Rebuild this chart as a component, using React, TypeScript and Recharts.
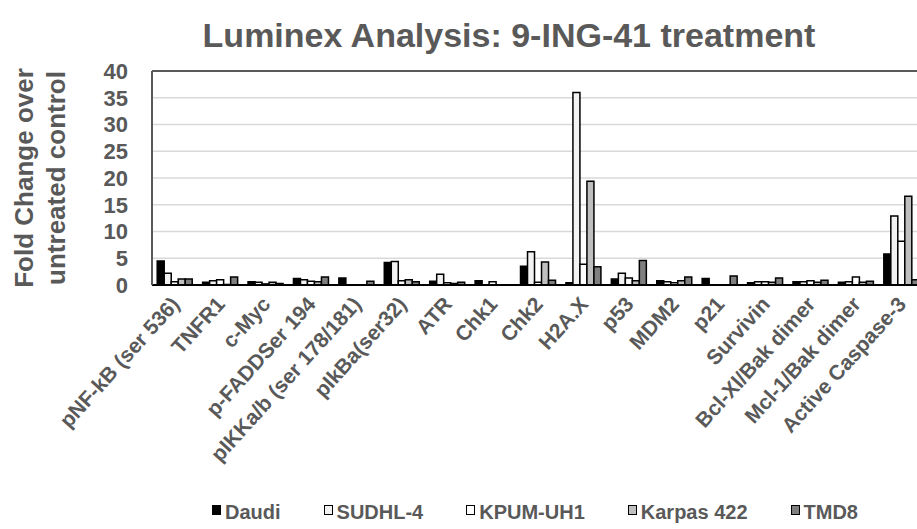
import React from 'react'
import { Bar, BarChart, CartesianGrid, Legend, ReferenceLine, XAxis, YAxis } from 'recharts'

const categories = [
  'pNF-kB (ser 536)',
  'TNFR1',
  'c-Myc',
  'p-FADDSer 194',
  'pIKKa/b (ser 178/181)',
  'pIkBa(ser32)',
  'ATR',
  'Chk1',
  'Chk2',
  'H2A.X',
  'p53',
  'MDM2',
  'p21',
  'Survivin',
  'Bcl-Xl/Bak dimer',
  'Mcl-1/Bak dimer',
  'Active Caspase-3',
]

const daudi = [4.5, 0.5, 0.6, 1.2, 1.3, 4.2, 0.7, 0.8, 3.5, 0.4, 1.1, 0.8, 1.2, 0.4, 0.6, 0.5, 5.8]
const sudhl4 = [2.2, 0.8, 0.5, 1.0, 0, 4.4, 2.0, 0, 6.2, 36.0, 2.2, 0.6, 0, 0.6, 0.6, 0.6, 12.9]
const kpumUh1 = [0.6, 1.0, 0.2, 0.7, 0, 0.8, 0.4, 0.6, 0.5, 3.9, 1.3, 0.4, 0, 0.6, 0.8, 1.5, 8.2]
const karpas422 = [1.1, 0.1, 0.5, 0.6, 0, 1.0, 0.3, 0, 4.3, 19.4, 0.8, 0.8, 0, 0.5, 0.5, 0.5, 16.6]
const tmd8 = [1.1, 1.5, 0.3, 1.5, 0.7, 0.6, 0.5, 0, 0.9, 3.4, 4.6, 1.5, 1.7, 1.3, 0.9, 0.7, 1.0]

const yTicks = [0, 5, 10, 15, 20, 25, 30, 35, 40]

const series = [
  { key: 'daudi', name: 'Daudi', fill: '#000000' },
  { key: 'sudhl4', name: 'SUDHL-4', fill: '#f2f2f2' },
  { key: 'kpum', name: 'KPUM-UH1', fill: '#ffffff' },
  { key: 'karpas', name: 'Karpas 422', fill: '#bfbfbf' },
  { key: 'tmd8', name: 'TMD8', fill: '#7f7f7f' },
]

const data = categories.map((name, i) => ({
  name,
  daudi: daudi[i],
  sudhl4: sudhl4[i],
  kpum: kpumUh1[i],
  karpas: karpas422[i],
  tmd8: tmd8[i],
}))

const FONT = '"Liberation Sans", Arial, sans-serif'
const GREY = '#595959'

function XTick({ x, y, payload }: any) {
  const ax = x + 6
  const ay = y + 18
  return (
    <text
      x={ax}
      y={ay}
      transform={`rotate(-48, ${ax}, ${ay})`}
      textAnchor="end"
      fontFamily={FONT}
      fontWeight="bold"
      fontSize={21}
      fill={GREY}
    >
      {payload.value}
    </text>
  )
}

function YLabel() {
  const common = {
    textAnchor: 'middle' as const,
    dominantBaseline: 'central' as const,
    fontFamily: FONT,
    fontWeight: 'bold',
    fontSize: 26,
    fill: GREY,
  }
  return (
    <g>
      <text transform="translate(24,178) rotate(-90)" {...common}>
        Fold Change over
      </text>
      <text transform="translate(56,178) rotate(-90)" {...common}>
        untreated control
      </text>
    </g>
  )
}

function LegendContent() {
  return (
    <div style={{ display: 'flex', fontFamily: FONT, fontWeight: 'bold', fontSize: 20, color: GREY }}>
      {series.map((s) => (
        <div key={s.key} style={{ display: 'flex', alignItems: 'flex-start', marginRight: 43, lineHeight: '20px' }}>
          <span
            style={{
              width: 9,
              height: 10,
              marginTop: 3,
              marginRight: 4,
              border: '1px solid #000',
              background: s.fill,
              boxSizing: 'border-box',
            }}
          />
          <span>{s.name}</span>
        </div>
      ))}
    </div>
  )
}

export default function App() {
  return (
    <div
      style={{
        position: 'fixed',
        left: 0,
        top: 0,
        width: 917,
        height: 529,
        overflow: 'hidden',
        background: '#fff',
      }}
    >
      <div
        style={{
          position: 'absolute',
          left: 0,
          top: 18,
          width: 1018,
          textAlign: 'center',
          fontFamily: FONT,
          fontWeight: 'bold',
          fontSize: 34,
          lineHeight: '34px',
          color: GREY,
        }}
      >
        Luminex Analysis: 9-ING-41 treatment
      </div>
      <div style={{ position: 'absolute', left: 0, top: 0 }}>
        <BarChart
          width={935}
          height={529}
          data={data}
          margin={{ top: 71, right: 11, bottom: 44, left: 0 }}
          barCategoryGap="11.5%"
          barGap={0}
        >
          <CartesianGrid vertical={false} stroke="#d9d9d9" strokeWidth={1.5} />
          <XAxis
            dataKey="name"
            interval={0}
            height={200}
            tick={<XTick />}
            tickLine={false}
            tickSize={0}
            axisLine={{ stroke: '#000', strokeWidth: 2 }}
          />
          <YAxis
            width={152}
            domain={[0, 40]}
            ticks={yTicks}
            interval={0}
            tickLine={false}
            tickSize={0}
            tickMargin={24}
            axisLine={{ stroke: GREY, strokeWidth: 2 }}
            tick={{ fontFamily: FONT, fontWeight: 'bold', fontSize: 22, fill: GREY }}
            label={{ content: <YLabel /> }}
          />
          <ReferenceLine y={40} stroke={GREY} strokeWidth={2} />
          {series.map((s) => (
            <Bar
              key={s.key}
              dataKey={s.key}
              name={s.name}
              fill={s.fill}
              stroke="#000"
              strokeWidth={1.5}
              isAnimationActive={false}
            />
          ))}
          <Legend
            layout="horizontal"
            verticalAlign="middle"
            align="center"
            wrapperStyle={{ top: 502, left: 212, width: 'auto', height: 'auto' }}
            content={<LegendContent />}
          />
        </BarChart>
      </div>
    </div>
  )
}
